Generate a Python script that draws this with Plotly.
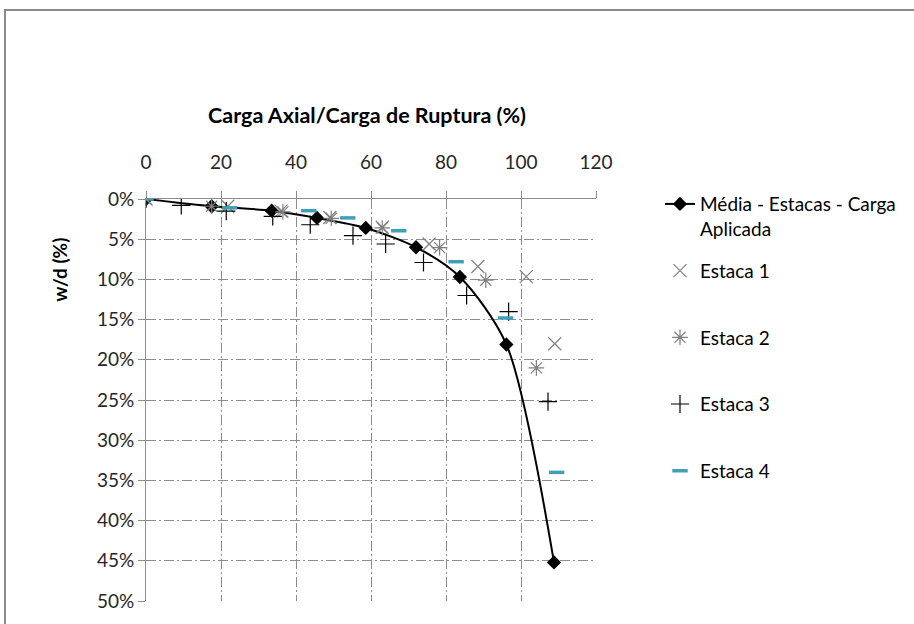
import plotly.graph_objects as go

# Carga axial normalizada (%) e deslocamento relativo w/d (%)
media_x = [0, 17.5, 33.5, 45.6, 58.6, 72.0, 83.7, 96.1, 108.8]
media_y = [0, 0.9, 1.45, 2.35, 3.6, 6.0, 9.7, 18.1, 45.2]

estaca1_x = [0, 21.8, 36.0, 49.0, 63.0, 75.5, 88.5, 101.4, 109.0]
estaca1_y = [0, 0.9, 1.5, 2.3, 3.5, 5.6, 8.4, 9.65, 18.0]

estaca2_x = [0, 17.5, 36.5, 49.4, 63.0, 78.3, 90.6, 104.1]
estaca2_y = [0, 0.9, 1.6, 2.4, 3.6, 6.05, 10.1, 21.0]

estaca3_x = [0, 9.4, 21.4, 33.8, 43.8, 55.2, 63.9, 74.0, 85.5, 96.7, 107.2]
estaca3_y = [0, 0.8, 1.5, 2.15, 3.2, 4.55, 5.6, 7.9, 12.0, 14.0, 25.2]

estaca4_x = [0, 22.3, 43.4, 53.8, 67.4, 82.7, 95.9, 109.5]
estaca4_y = [0, 1.1, 1.45, 2.35, 3.95, 7.8, 14.8, 34.0]

x_ticks = [0, 20, 40, 60, 80, 100, 120]
y_ticks = [0, 5, 10, 15, 20, 25, 30, 35, 40, 45, 50]

FONT = "Lato, 'Open Sans', sans-serif"
GRID = "#8c8c8c"
DASHDOT = "10px,3px,2px,3px"

fig = go.Figure()

fig.add_trace(go.Scatter(
    x=media_x, y=media_y, mode="lines+markers",
    name="Média - Estacas - Carga<br>Aplicada",
    line=dict(color="black", width=2, shape="spline", smoothing=0.8),
    marker=dict(symbol="diamond", size=11, color="black"),
    legend="legend", showlegend=True,
))
fig.add_trace(go.Scatter(
    x=estaca1_x, y=estaca1_y, mode="markers", name="Estaca 1",
    marker=dict(symbol="x-thin-open", size=13, color="#7f7f7f",
                line=dict(color="#7f7f7f", width=1.2)),
    legend="legend2", legendgroup="e1",
))
fig.add_trace(go.Scatter(
    x=estaca2_x, y=estaca2_y, mode="markers", name="Estaca 2",
    marker=dict(symbol="asterisk-open", size=13, color="#7f7f7f",
                line=dict(color="#7f7f7f", width=1.2)),
    legend="legend2", legendgroup="e2",
))
fig.add_trace(go.Scatter(
    x=estaca3_x, y=estaca3_y, mode="markers", name="Estaca 3",
    marker=dict(symbol="cross-thin-open", size=13, color="black",
                line=dict(color="black", width=1.2)),
    legend="legend2", legendgroup="e3",
))
fig.add_trace(go.Scatter(
    x=estaca4_x, y=estaca4_y, mode="markers", name="Estaca 4",
    marker=dict(symbol="line-ew-open", size=11, color="#3f9fb8",
                line=dict(color="#3f9fb8", width=3.5)),
    legend="legend2", legendgroup="e4",
))

axis_common = dict(
    showgrid=True, gridcolor=GRID, griddash=DASHDOT, gridwidth=1,
    showline=True, linecolor=GRID, linewidth=1,
    ticks="outside", ticklen=7, tickcolor=GRID,
    tickfont=dict(family=FONT, size=19, color="#262626"),
    zeroline=False,
)

fig.update_xaxes(
    range=[0, 120], tickvals=x_ticks, side="top",
    ticklabelstandoff=14, **axis_common,
)
fig.update_yaxes(
    range=[50, 0], tickvals=y_ticks,
    ticktext=[f"{v}%" for v in y_ticks], **axis_common,
)

L, R, T, B = 146, 318, 199, 21
W, H = 914, 624
pw, ph = W - L - R, H - T - B

def px_x(p):
    return (p - L) / pw

def px_y(p):
    return 1 - (p - T) / ph

fig.update_layout(
    width=W, height=H,
    margin=dict(l=L, r=R, t=T, b=B, pad=0),
    paper_bgcolor="white", plot_bgcolor="white",
    font=dict(family=FONT, color="black"),
    showlegend=True,
    legend=dict(
        x=px_x(660), y=px_y(185), xanchor="left", yanchor="top",
        font=dict(family=FONT, size=19, color="black"),
        valign="top", bgcolor="rgba(0,0,0,0)", itemwidth=30,
    ),
    legend2=dict(
        x=px_x(660), y=px_y(252), xanchor="left", yanchor="top",
        font=dict(family=FONT, size=19, color="black"),
        tracegroupgap=39, bgcolor="rgba(0,0,0,0)", itemwidth=30,
    ),
    annotations=[
        dict(text="<b>Carga Axial/Carga de Ruptura (%)</b>",
             xref="paper", yref="paper", x=px_x(367), y=px_y(115),
             xanchor="center", yanchor="middle",
             showarrow=False, font=dict(family=FONT, size=21.5, color="black")),
        dict(text="<b>w/d (%)</b>", textangle=-90,
             xref="paper", yref="paper", x=px_x(60), y=px_y(270),
             xanchor="center", yanchor="middle",
             showarrow=False, font=dict(family=FONT, size=19, color="black")),
    ],
    shapes=[
        dict(type="rect", xref="paper", yref="paper",
             x0=px_x(5), x1=px_x(930), y0=px_y(640), y1=px_y(9),
             line=dict(color="#8a8a8a", width=2), layer="below"),
    ],
)

fig.write_html("out.html")
